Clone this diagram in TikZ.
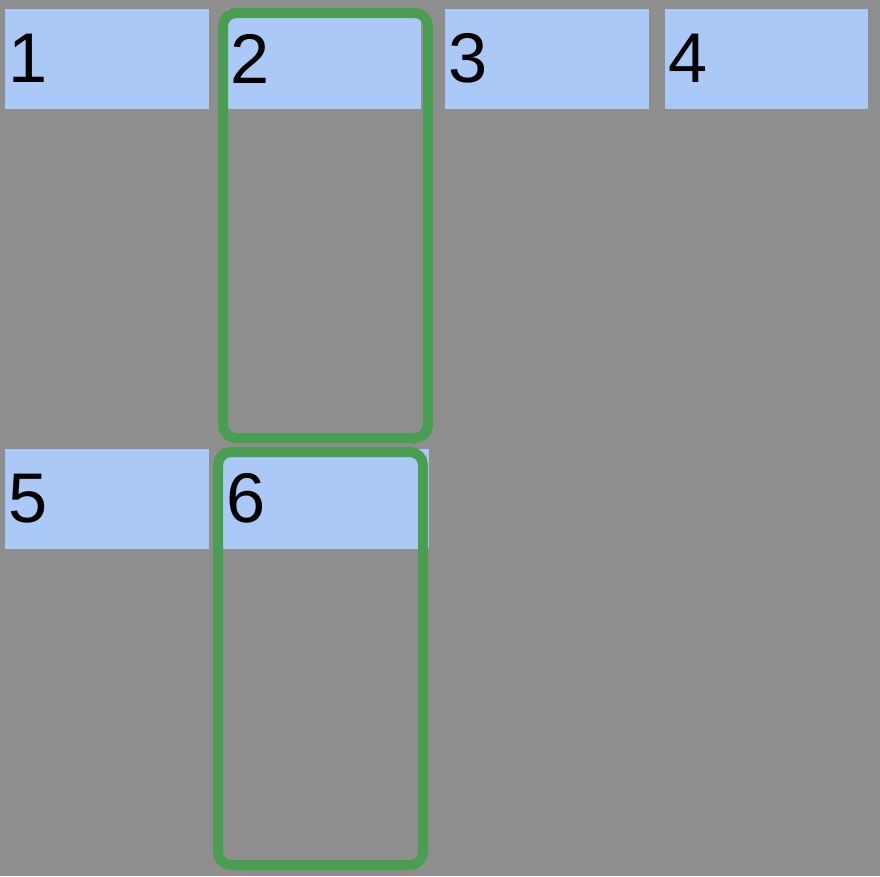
\documentclass[tikz,border=0pt]{standalone}
\usepackage{fontspec}
\setmainfont{Liberation Sans}
\usepackage{xcolor}
\definecolor{bggray}{HTML}{8E8E8E}
\definecolor{cellblue}{HTML}{AAC9F6}
\definecolor{framegreen}{HTML}{4A9E52}

\begin{document}
\begin{tikzpicture}[x=0.01cm, y=-0.01cm,
    cell/.style={anchor=north west, fill=cellblue, minimum height=1cm, inner ysep=0pt,
        inner xsep=0.04cm, align=left, font=\fontsize{20pt}{24pt}\selectfont},
    frame/.style={draw=framegreen, line width=0.1cm, rounded corners=0.13cm}]
    % Fond
    \fill[bggray] (0,0) rectangle (880,876);
    \useasboundingbox (0,0) rectangle (880,876);

    % Cellules
    \foreach \x/\y/\w/\name in {4/8/1.96/1, 226/8/1.86/2, 444/8/1.96/3, 664/8/1.95/4, 4/448/1.96/5, 222/448/1.98/6} {
        \node[cell, text width=\w cm] (c\name) at (\x,\y) {\name};
    }

    % Cadres verts
    \draw[frame] (223,13) rectangle (428,438);
    \draw[frame] (218,452) rectangle (423,865);
\end{tikzpicture}
\end{document}
